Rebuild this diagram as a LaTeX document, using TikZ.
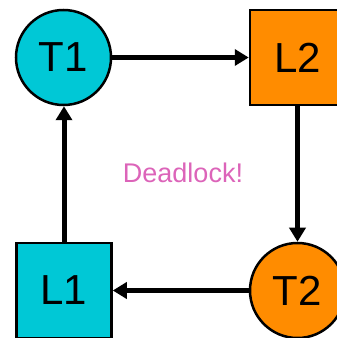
\documentclass[tikz,border=0pt]{standalone}
\usepackage{fontspec}
\setmainfont{Liberation Sans}
\usetikzlibrary{arrows.meta}
\definecolor{cyanfill}{RGB}{0,200,214}
\definecolor{orangefill}{RGB}{255,140,0}
\definecolor{pinktext}{RGB}{220,100,185}
\begin{document}
\begin{tikzpicture}[x=1pt,y=1pt,
  thread/.style={circle,draw=black,line width=2.5pt,minimum size=95pt,inner sep=0pt,font=\fontsize{42}{42}\selectfont},
  lockbox/.style={rectangle,draw=black,line width=2.5pt,minimum size=95pt,inner sep=0pt,font=\fontsize{42}{42}\selectfont},
  conn/.style={line width=5pt,-{Triangle[length=14pt,width=16pt]}}]
\useasboundingbox (0,0) rectangle (337,338);
\node[thread,fill=cyanfill] (T1) at (63.5,280.5) {T1};
\node[lockbox,fill=orangefill] (L2) at (297.5,280.5) {L2};
\node[lockbox,fill=cyanfill] (L1) at (64,47.5) {L1};
\node[thread,fill=orangefill] (T2) at (297.5,47.5) {T2};
\node[text=pinktext,font=\fontsize{27}{27}\selectfont] (D) at (183,165) {Deadlock!};
\draw[conn] (T1) -- (L2);
\draw[conn] (L2) -- (T2);
\draw[conn] (T2) -- (L1);
\draw[conn] (L1.north) -- (L1.north |- T1.south);
\end{tikzpicture}
\end{document}
